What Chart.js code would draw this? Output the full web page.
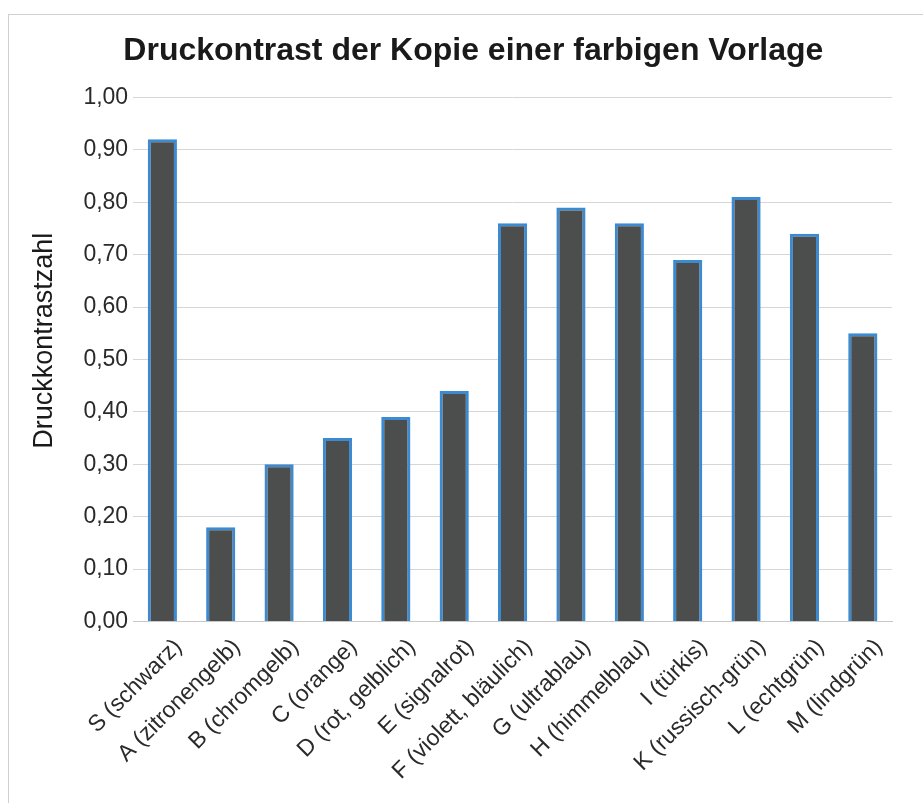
<!DOCTYPE html>
<html>
<head>
<meta charset="utf-8">
<script src="https://cdn.jsdelivr.net/npm/chart.js@4/dist/chart.umd.min.js"></script>
<style>
  body { margin: 0; background: #fff; }
  #frame { position: absolute; left: 8px; top: 14px; width: 930px; height: 800px; border-left: 1px solid #d0d0d0; border-top: 1px solid #d0d0d0; }
  #wrap { position: absolute; left: 0; top: 0; width: 923px; height: 803px; }
</style>
</head>
<body>
<div id="frame"></div>
<div id="wrap"><canvas id="chart" width="923" height="803"></canvas></div>
<script>
var categories = ['S (schwarz)', 'A (zitronengelb)', 'B (chromgelb)', 'C (orange)', 'D (rot, gelblich)', 'E (signalrot)',
    'F (violett, bläulich)', 'G (ultrablau)', 'H (himmelblau)', 'I (türkis)', 'K (russisch-grün)', 'L (echtgrün)', 'M (lindgrün)'];
var contrastValues = [0.92, 0.18, 0.30, 0.35, 0.39, 0.44, 0.76, 0.79, 0.76, 0.69, 0.81, 0.74, 0.55];
var yTicks = [0, 0.1, 0.2, 0.3, 0.4, 0.5, 0.6, 0.7, 0.8, 0.9, 1.0];

const config = {
    type: 'bar',
    data: {
        labels: categories,
        datasets: [{
            label: 'Druckkontrastzahl',
            data: contrastValues,
            backgroundColor: '#4c4e4d',
            borderColor: '#3b8ad2',
            borderWidth: 3,
            barPercentage: 0.5,
            categoryPercentage: 1.0
        }]
    },
    options: {
        responsive: false,
        animation: false,
        layout: { padding: { left: 28, right: 31, top: 32, bottom: 14 } },
        plugins: {
            legend: { display: false },
            tooltip: { enabled: false },
            title: {
                display: true,
                text: '   Druckontrast der Kopie einer farbigen Vorlage',
                color: '#1a1a1a',
                font: { family: 'Liberation Sans', size: 32, weight: 'bold' },
                padding: { top: 0, bottom: 27 }
            }
        },
        scales: {
            x: {
                grid: { display: false },
                border: { color: '#c8c8c8', width: 1 },
                ticks: {
                    color: '#2a2a2a',
                    font: { family: 'Liberation Sans', size: 23 },
                    minRotation: 45,
                    maxRotation: 45,
                    labelOffset: 16,
                    padding: 4
                }
            },
            y: {
                min: 0,
                max: 1,
                afterBuildTicks: function(scale) {
                    scale.ticks = yTicks.map(function(v) { return { value: v }; });
                },
                grid: { color: '#d6d6d6', lineWidth: 1, drawTicks: false },
                border: { display: false },
                ticks: {
                    color: '#2a2a2a',
                    font: { family: 'Liberation Sans', size: 23 },
                    padding: 5,
                    callback: function(v) { return v.toFixed(2).replace('.', ','); }
                },
                title: {
                    display: true,
                    text: '     Druckkontrastzahl',
                    color: '#1a1a1a',
                    font: { family: 'Liberation Sans', size: 27 },
                    padding: { top: 0, bottom: 18 }
                }
            }
        }
    }
};

var myChart = new Chart(document.getElementById('chart'), config);
</script>
</body>
</html>
